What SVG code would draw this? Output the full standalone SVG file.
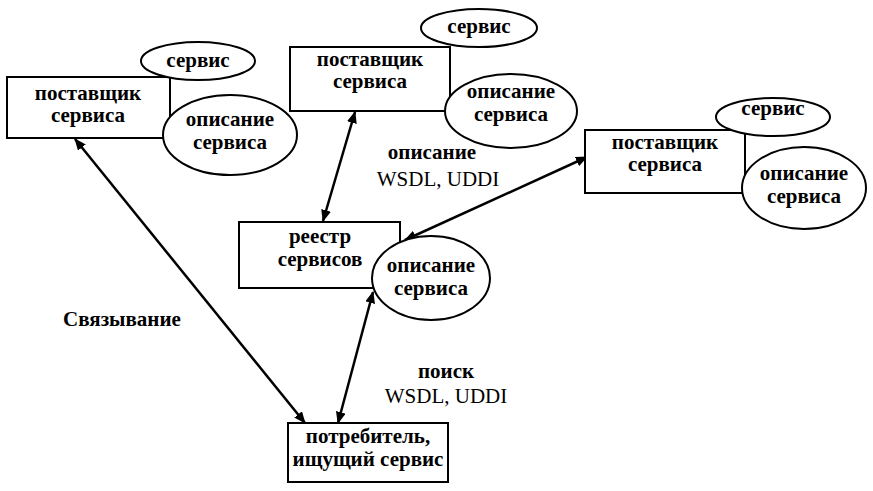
<svg xmlns="http://www.w3.org/2000/svg" width="873" height="491" viewBox="0 0 873 491">
<defs>
<marker id="ah" viewBox="0 0 12 10" refX="11" refY="5" markerWidth="12" markerHeight="10" markerUnits="userSpaceOnUse" orient="auto-start-reverse">
<path d="M0,0 L12,5 L0,10 Z" fill="#000"/>
</marker>
</defs>
<style>
rect.n{fill:#fff;stroke:#000;stroke-width:2}
ellipse{fill:#fff;stroke:#000;stroke-width:2}
text{text-anchor:middle;fill:#000}
.c line{stroke:#000;stroke-width:2.5;marker-start:url(#ah);marker-end:url(#ah)}
</style>
<rect width="873" height="491" fill="#fff"/>
<g class="c" id="connectors">
<line x1="75" y1="139" x2="305" y2="423"/>
<line x1="355" y1="112" x2="323" y2="221"/>
<line x1="587" y1="157" x2="405" y2="240"/>
<line x1="373" y1="292" x2="338" y2="423"/>
</g>
<g id="provider1" style="font-family:'Liberation Serif',serif;font-size:21px;font-weight:bold">
<rect class="n" x="7" y="77" width="163" height="61"/>
<text x="88" y="100">поставщик</text>
<text x="88" y="122">сервиса</text>
<ellipse cx="198" cy="61" rx="57" ry="19"/>
<text x="198" y="67">сервис</text>
<ellipse cx="230" cy="135" rx="67" ry="40"/>
<text x="230" y="126">описание</text>
<text x="230" y="149">сервиса</text>
</g>
<g id="provider2" style="font-family:'Liberation Serif',serif;font-size:21px;font-weight:bold">
<rect class="n" x="290" y="47" width="160" height="64"/>
<text x="370" y="66">поставщик</text>
<text x="370" y="88">сервиса</text>
<ellipse cx="479" cy="28" rx="58" ry="19"/>
<text x="479" y="33">сервис</text>
<ellipse cx="511" cy="111" rx="66" ry="37"/>
<text x="511" y="98">описание</text>
<text x="511" y="121">сервиса</text>
</g>
<g id="provider3" style="font-family:'Liberation Serif',serif;font-size:21px;font-weight:bold">
<rect class="n" x="585" y="130" width="160" height="63"/>
<text x="665" y="149">поставщик</text>
<text x="665" y="171">сервиса</text>
<ellipse cx="773" cy="117" rx="57" ry="19"/>
<text x="773" y="115">сервис</text>
<ellipse cx="804" cy="188" rx="62" ry="41"/>
<text x="804" y="180">описание</text>
<text x="804" y="203">сервиса</text>
</g>
<g id="registry" style="font-family:'Liberation Serif',serif;font-size:21px;font-weight:bold">
<rect class="n" x="239" y="222" width="161" height="66"/>
<text x="320" y="243">реестр</text>
<text x="320" y="266">сервисов</text>
<ellipse cx="431" cy="278" rx="59" ry="42"/>
<text x="431" y="272">описание</text>
<text x="431" y="295">сервиса</text>
</g>
<g id="consumer" style="font-family:'Liberation Serif',serif;font-size:21px;font-weight:bold">
<rect class="n" x="288" y="423" width="160" height="59"/>
<text x="368" y="443">потребитель,</text>
<text x="368" y="466">ищущий сервис</text>
</g>
<g id="labels" style="font-family:'Liberation Serif',serif;font-size:21px;font-weight:bold">
<text x="122" y="326">Связывание</text>
<text x="432" y="159">описание</text>
<text x="438" y="186" style="font-weight:normal;font-size:21px">WSDL, UDDI</text>
<text x="446" y="378">поиск</text>
<text x="446" y="403" style="font-weight:normal;font-size:21px">WSDL, UDDI</text>
</g>
</svg>
